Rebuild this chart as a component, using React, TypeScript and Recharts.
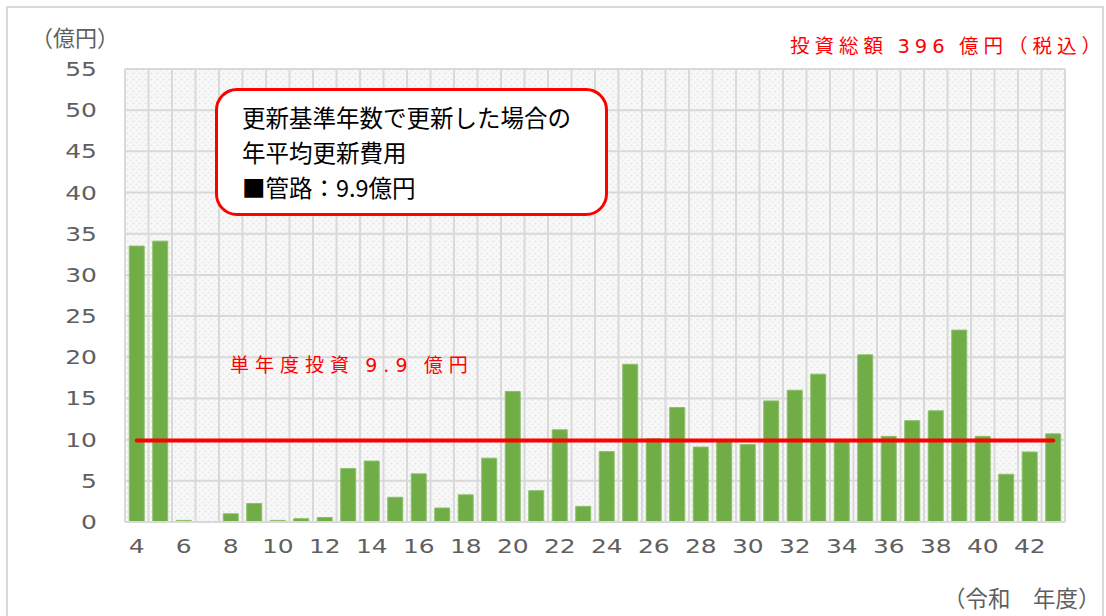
import React from 'react';
import {
  ComposedChart,
  Bar,
  XAxis,
  YAxis,
  CartesianGrid,
  ReferenceLine,
} from 'recharts';

const years = [
  '4', '5', '6', '7', '8', '9', '10', '11', '12', '13',
  '14', '15', '16', '17', '18', '19', '20', '21', '22', '23',
  '24', '25', '26', '27', '28', '29', '30', '31', '32', '33',
  '34', '35', '36', '37', '38', '39', '40', '41', '42', '43',
];

const pipeCost = [
  33.5, 34.1, 0.2, 0, 1.0, 2.25, 0.2, 0.4, 0.55, 6.5,
  7.4, 3.0, 5.85, 1.7, 3.3, 7.75, 15.85, 3.8, 11.2, 1.9,
  8.55, 19.15, 10.1, 13.9, 9.1, 10.0, 9.4, 14.7, 16.0, 17.95,
  9.9, 20.3, 10.4, 12.3, 13.5, 23.3, 10.4, 5.8, 8.5, 10.7,
];

const yTicks = [0, 5, 10, 15, 20, 25, 30, 35, 40, 45, 50, 55];
const averageCost = 9.9;

const data = years.map((y, i) => ({ year: y, cost: pipeCost[i] }));

const FONT = '"Noto Sans CJK JP", "Noto Sans", sans-serif';
const NUM_FONT = '"DejaVu Sans", sans-serif';
const AXIS_TEXT = '#5f5f5f';

// wide, thin digits like the original's gothic face
function NumTick(props: any) {
  const { x, y, payload, textAnchor, dy } = props;
  return (
    <g transform={`translate(${x},${y}) scale(1.28,1)`}>
      <text
        x={0}
        y={0}
        dy={dy}
        textAnchor={textAnchor}
        fontSize={19.5}
        fontFamily={NUM_FONT}
        fill={AXIS_TEXT}
      >
        {payload.value}
      </text>
    </g>
  );
}

export default function App() {
  // vertical grid lines sit on category boundaries, not centres
  const gridX = ({ offset }: any) =>
    years
      .map((_, i) => offset.left + (i * offset.width) / years.length)
      .concat(offset.left + offset.width);

  return (
    <div
      style={{
        position: 'absolute',
        left: 0,
        top: 0,
        width: 1106,
        height: 616,
        background: '#fff',
        fontFamily: FONT,
        overflow: 'hidden',
      }}
    >
      <svg width="0" height="0" style={{ position: 'absolute' }}>
        <defs>
          <pattern id="tex" width="6" height="6" patternUnits="userSpaceOnUse">
            <rect width="6" height="6" fill="#f8f8f8" />
            <circle cx="1.5" cy="1.5" r="1" fill="#e6e6e6" />
            <circle cx="4.5" cy="4.5" r="0.9" fill="#ebebeb" />
          </pattern>
        </defs>
      </svg>
      <div
        style={{
          position: 'absolute',
          left: 6,
          top: 6,
          width: 1098,
          height: 620,
          border: '2px solid #d9d9d9',
          boxSizing: 'border-box',
        }}
      />
      <ComposedChart
        width={1106}
        height={616}
        data={data}
        margin={{ top: 69, right: 41, left: 0, bottom: 64 }}
        barCategoryGap="18%"
      >
        <CartesianGrid
          stroke="#d9d9d9"
          strokeWidth={2}
          fill="url(#tex)"
          verticalCoordinatesGenerator={gridX}
        />
        <XAxis
          dataKey="year"
          interval={1}
          tickLine={false}
          axisLine={{ stroke: '#d9d9d9', strokeWidth: 2 }}
          tickMargin={11}
          height={30}
          tick={<NumTick dy="0.71em" />}
        />
        <YAxis
          width={125}
          domain={[0, 55]}
          ticks={yTicks}
          tickLine={false}
          axisLine={{ stroke: '#d9d9d9', strokeWidth: 2 }}
          tickMargin={22}
          tick={<NumTick dy="0.36em" />}
        />
        <Bar dataKey="cost" fill="#70ad47" stroke="#8cc06a" strokeWidth={1} isAnimationActive={false} />
        <ReferenceLine
          segment={[
            { x: years[0], y: averageCost },
            { x: years[years.length - 1], y: averageCost },
          ]}
          stroke="#ff0000"
          strokeWidth={4}
          strokeLinecap="round"
        />
      </ComposedChart>

      <div style={{ position: 'absolute', left: 31, top: 20, fontSize: 22, color: AXIS_TEXT }}>
        （億円）
      </div>
      <div
        style={{
          position: 'absolute',
          left: 790,
          top: 30,
          fontSize: 19.5,
          color: '#ff0000',
          letterSpacing: 5,
          whiteSpace: 'nowrap',
        }}
      >
        投資総額 <span style={{ fontFamily: NUM_FONT }}>396</span> 億円（税込）
      </div>
      <div
        style={{
          position: 'absolute',
          left: 230,
          top: 350,
          fontSize: 19,
          color: '#ff0000',
          letterSpacing: 6,
          whiteSpace: 'nowrap',
        }}
      >
        単年度投資 <span style={{ fontFamily: NUM_FONT }}>9.9</span> 億円
      </div>
      <div
        style={{
          position: 'absolute',
          left: 215,
          top: 88,
          width: 393,
          height: 128,
          border: '3px solid #ff0000',
          borderRadius: 22,
          background: '#fff',
          boxSizing: 'border-box',
          padding: '9px 0 0 24px',
          fontSize: 23.5,
          lineHeight: '35px',
          color: '#000',
          whiteSpace: 'nowrap',
        }}
      >
        <div>更新基準年数で更新した場合の</div>
        <div>年平均更新費用</div>
        <div>■管路：9.9億円</div>
      </div>
      <div
        style={{
          position: 'absolute',
          left: 943,
          top: 584,
          fontSize: 22.5,
          lineHeight: '26px',
          color: AXIS_TEXT,
          whiteSpace: 'nowrap',
        }}
      >
        （令和　年度）
      </div>
    </div>
  );
}
